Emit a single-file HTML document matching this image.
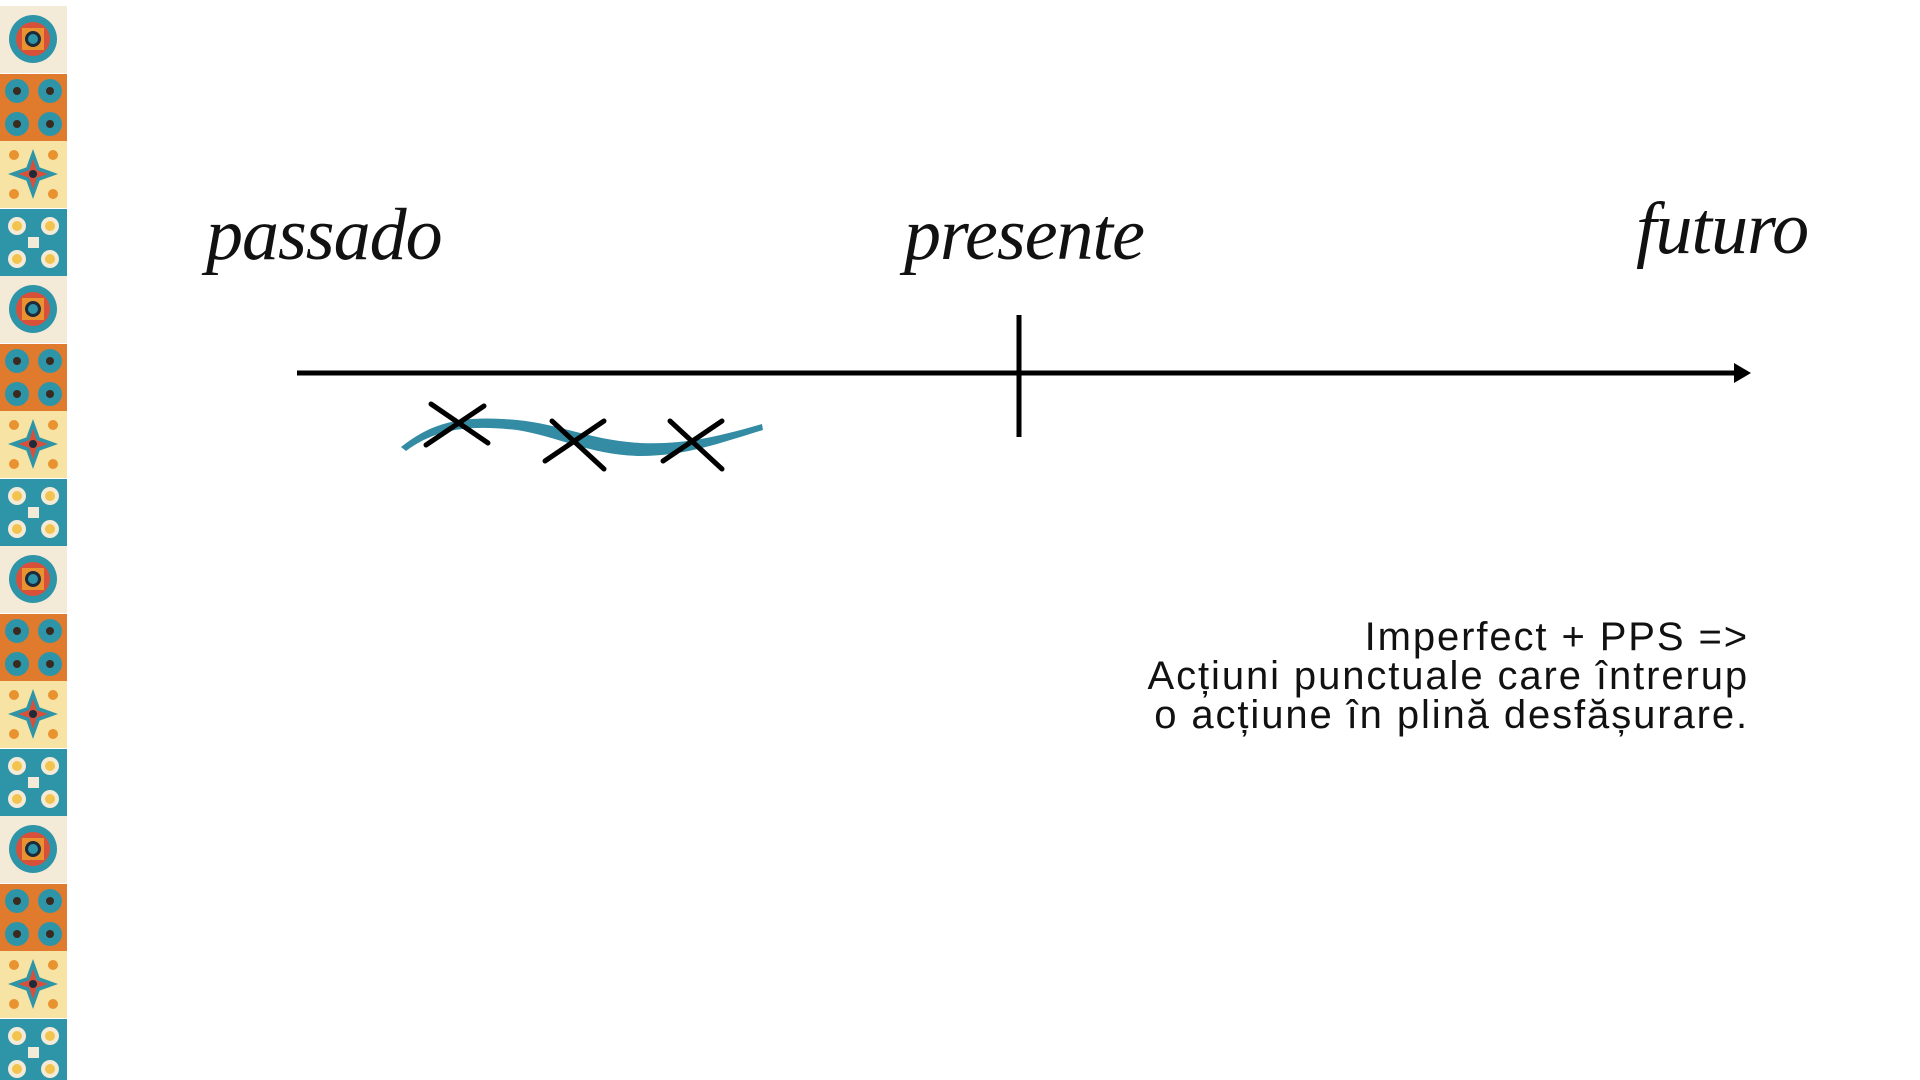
<!DOCTYPE html>
<html><head><meta charset="utf-8"><style>
html,body{margin:0;padding:0;background:#fff;width:1920px;height:1080px;overflow:hidden;position:relative}
.s{position:absolute;font-family:"Liberation Serif",serif;font-style:italic;font-size:74px;line-height:74px;color:#111;letter-spacing:-1px}
.t{position:absolute;right:171px;top:618px;font-family:"Liberation Sans",sans-serif;font-size:40px;line-height:39px;text-align:right;color:#111;letter-spacing:1.9px}
</style></head><body>
<svg width="70" height="1080" style="position:absolute;left:0;top:0">
<defs>
<g id="a"><rect width="67" height="67" fill="#f3ead8"/><circle cx="33" cy="33" r="24" fill="#2e95a8"/><circle cx="33" cy="33" r="17" fill="#d9503a"/><rect x="22" y="22" width="22" height="22" fill="#e99230"/><circle cx="33" cy="33" r="8" fill="#1d2b3a"/><circle cx="33" cy="33" r="5" fill="#2e95a8"/></g>
<g id="b"><rect width="67" height="67" fill="#e07a2c"/><g fill="#2e95a8"><circle cx="17" cy="17" r="12"/><circle cx="50" cy="17" r="12"/><circle cx="17" cy="50" r="12"/><circle cx="50" cy="50" r="12"/></g><g fill="#3a2a20"><circle cx="17" cy="17" r="4"/><circle cx="50" cy="17" r="4"/><circle cx="17" cy="50" r="4"/><circle cx="50" cy="50" r="4"/></g></g>
<g id="c"><rect width="67" height="67" fill="#f7e3a3"/><path d="M33 8 L42 33 L33 58 L24 33Z M8 33 L33 24 L58 33 L33 42Z" fill="#2e95a8"/><path d="M33 18 L38 33 L33 48 L28 33Z M18 33 L33 28 L48 33 L33 38Z" fill="#d9503a"/><circle cx="33" cy="33" r="4" fill="#1d2b3a"/><g fill="#e99230"><circle cx="14" cy="14" r="5"/><circle cx="53" cy="14" r="5"/><circle cx="14" cy="53" r="5"/><circle cx="53" cy="53" r="5"/></g></g>
<g id="d"><rect width="67" height="67" fill="#2e95a8"/><g fill="#f3ead8"><circle cx="17" cy="17" r="9"/><circle cx="50" cy="17" r="9"/><circle cx="17" cy="50" r="9"/><circle cx="50" cy="50" r="9"/><rect x="28" y="28" width="11" height="11"/></g><g fill="#f2c44e"><circle cx="17" cy="17" r="5"/><circle cx="50" cy="17" r="5"/><circle cx="17" cy="50" r="5"/><circle cx="50" cy="50" r="5"/></g></g>
</defs>
<use href="#a" y="6"/><use href="#b" y="74"/><use href="#c" y="141"/><use href="#d" y="209"/>
<use href="#a" y="276"/><use href="#b" y="344"/><use href="#c" y="411"/><use href="#d" y="479"/>
<use href="#a" y="546"/><use href="#b" y="614"/><use href="#c" y="681"/><use href="#d" y="749"/>
<use href="#a" y="816"/><use href="#b" y="884"/><use href="#c" y="951"/><use href="#d" y="1019"/>
</svg>
<div class="s" style="left:206px;top:198px">passado</div>
<div class="s" style="left:904px;top:198px">presente</div>
<div class="s" style="left:1636px;top:192px">futuro</div>
<svg width="1920" height="1080" style="position:absolute;left:0;top:0">
<line x1="297" y1="373" x2="1740" y2="373" stroke="#000" stroke-width="5"/>
<path d="M1734 363 L1751 373 L1734 383Z" fill="#000"/>
<line x1="1019" y1="315" x2="1019" y2="437" stroke="#000" stroke-width="5"/>
<path d="M401 447 C437 418 470 416 517 420 C560 424 590 440 640 443 C685 445 720 436 762 424 L763 430 C720 443 685 456 640 456 C590 455 560 437 517 430 C470 425 437 428 406 451 Z" fill="#338ca3"/>
<g stroke="#000" stroke-width="5" stroke-linecap="round">
<line x1="431" y1="404" x2="488" y2="443"/><line x1="426" y1="445" x2="484" y2="406"/>
<line x1="552" y1="421" x2="604" y2="469"/><line x1="545" y1="461" x2="604" y2="421"/>
<line x1="670" y1="421" x2="722" y2="469"/><line x1="663" y1="461" x2="722" y2="421"/>
</g>
</svg>
<div class="t">Imperfect + PPS =&gt;<br>Acțiuni punctuale care întrerup<br>o acțiune în plină desfășurare.</div>
</body></html>
